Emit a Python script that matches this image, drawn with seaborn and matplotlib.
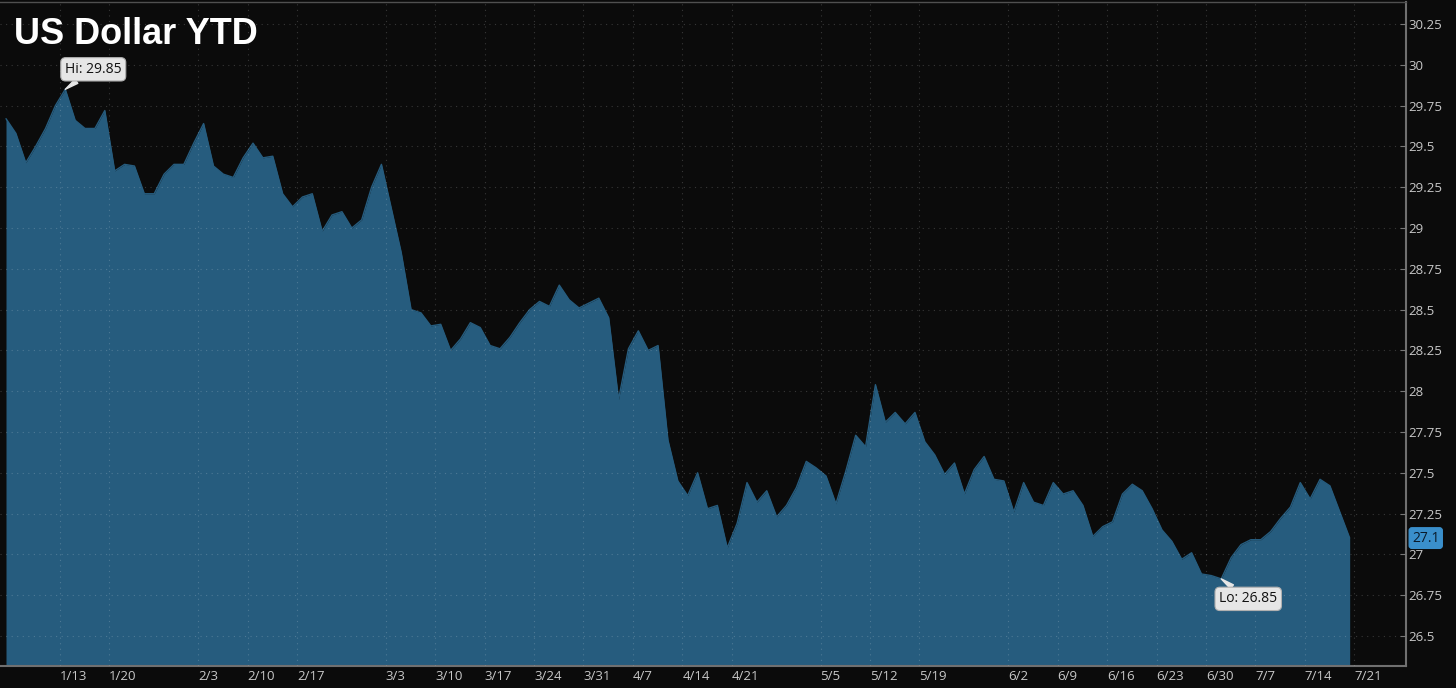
import numpy as np
import pandas as pd
import matplotlib
matplotlib.use('Agg')
import matplotlib.pyplot as plt
import seaborn as sns

# daily closes, one per bar
closes = [
    29.67, 29.58, 29.40, 29.50, 29.61, 29.75, 29.85, 29.66, 29.61, 29.61,
    29.72, 29.35, 29.39, 29.38, 29.21, 29.21, 29.33, 29.39, 29.39, 29.52,
    29.64, 29.38, 29.33, 29.31, 29.43, 29.52, 29.43, 29.44, 29.21, 29.13,
    29.19, 29.21, 28.98, 29.08, 29.10, 29.00, 29.05, 29.25, 29.39, 29.12,
    28.85, 28.50, 28.48, 28.40, 28.41, 28.25, 28.32, 28.42, 28.39, 28.28,
    28.26, 28.33, 28.42, 28.50, 28.55, 28.52, 28.65, 28.56, 28.51, 28.54,
    28.57, 28.45, 27.95, 28.26, 28.37, 28.25, 28.28, 27.70, 27.45, 27.36,
    27.50, 27.28, 27.30, 27.04, 27.19, 27.44, 27.32, 27.39, 27.23, 27.30,
    27.41, 27.57, 27.53, 27.48, 27.31, 27.51, 27.73, 27.66, 28.04, 27.81,
    27.87, 27.80, 27.87, 27.69, 27.61, 27.49, 27.56, 27.37, 27.52, 27.60,
    27.46, 27.45, 27.26, 27.44, 27.32, 27.30, 27.44, 27.37, 27.39, 27.30,
    27.11, 27.17, 27.20, 27.37, 27.43, 27.39, 27.28, 27.15, 27.08, 26.97,
    27.01, 26.88, 26.87, 26.85, 26.98, 27.06, 27.09, 27.09, 27.14, 27.22,
    27.29, 27.44, 27.34, 27.46, 27.42, 27.26, 27.10,
]

# bar index where each labelled week starts
tick_bars = [6, 11, 20, 25, 30, 39, 44, 49, 54, 59, 64, 69, 74, 83, 88, 93,
             102, 107, 112, 117, 122, 127, 132, 137]
tick_labels = ['1/13', '1/20', '2/3', '2/10', '2/17', '3/3', '3/10', '3/17',
               '3/24', '3/31', '4/7', '4/14', '4/21', '5/5', '5/12', '5/19',
               '6/2', '6/9', '6/16', '6/23', '6/30', '7/7', '7/14', '7/21']

y_ticks = [26.5, 26.75, 27, 27.25, 27.5, 27.75, 28, 28.25, 28.5, 28.75,
           29, 29.25, 29.5, 29.75, 30, 30.25]

BG = '#0b0b0b'
FILL = '#265c7e'
TXT = '#c8c8c8'

sns.set_theme(style='dark')
plt.rcParams['font.family'] = ['Open Sans', 'DejaVu Sans']

df = pd.DataFrame({'bar': np.arange(len(closes)), 'close': closes})

fig = plt.figure(figsize=(14.56, 6.88), dpi=100, facecolor=BG)
ax = fig.add_axes([0, 22 / 688, 1406 / 1456, 664 / 688])
ax.set_facecolor(BG)

ax.fill_between(df['bar'], df['close'], 26.0, color=FILL, lw=0, zorder=1)
sns.lineplot(data=df, x='bar', y='close', ax=ax, color=FILL, lw=1, zorder=2)

# 9.88 px per bar, first bar 6 px from the left edge
px_bar = 9.88
ax.set_xlim(-6 / px_bar, (1406 - 6) / px_bar)
ax.set_ylim(26.316, 30.385)

ax.yaxis.tick_right()
ax.set_yticks(y_ticks)
ax.set_yticklabels(['{:g}'.format(v) for v in y_ticks])
ax.set_xticks([b - 0.55 for b in tick_bars])
ax.set_xticklabels(tick_labels, ha='left')
ax.set_xlabel('')
ax.set_ylabel('')

ax.tick_params(axis='x', direction='in', length=4, width=0.8, color='#777777',
               labelcolor=TXT, labelsize=9.5, pad=3)
ax.tick_params(axis='y', direction='in', length=4, width=0.8, color='#777777',
               labelcolor=TXT, labelsize=9.5, pad=2)

ax.grid(True, color='white', alpha=0.18, linestyle=(0, (1, 4)), lw=0.8)
ax.set_axisbelow(False)

ax.spines['left'].set_visible(False)
for s in ['right', 'bottom']:
    ax.spines[s].set_color('#707070')
    ax.spines[s].set_linewidth(1.5)
ax.spines['top'].set_color('#505050')
ax.spines['top'].set_linewidth(1)

# hi / lo callouts
hi_i = int(np.argmax(closes))
lo_i = int(np.argmin(closes))
box = dict(boxstyle='round,pad=0.3,rounding_size=0.35', fc='#e6e6e6',
           ec='#b0b0b0', lw=0.8)
wedge = dict(arrowstyle='wedge,tail_width=0.35', fc='#e6e6e6', ec='#e6e6e6',
             shrinkA=0, shrinkB=0)
ax.annotate('Hi: {:.2f}'.format(closes[hi_i]), xy=(hi_i, closes[hi_i]),
            xytext=(28, 20), textcoords='offset pixels', ha='center',
            va='center', fontsize=10, color='#111111', bbox=box,
            arrowprops=wedge, zorder=5)
ax.annotate('Lo: {:.2f}'.format(closes[lo_i]), xy=(lo_i, closes[lo_i]),
            xytext=(27, -20), textcoords='offset pixels', ha='center',
            va='center', fontsize=10, color='#111111', bbox=box,
            arrowprops=wedge, zorder=5)

# last value tag on the price axis
ax.annotate('{:g}'.format(closes[-1]), xy=(1, closes[-1]),
            xycoords=('axes fraction', 'data'), xytext=(6, 0),
            textcoords='offset pixels', ha='left', va='center', fontsize=10,
            color='#0a1a2a',
            bbox=dict(boxstyle='round,pad=0.2', fc='#3a8fcb', ec='#3a8fcb'),
            annotation_clip=False, zorder=5)

fig.text(14 / 1456, 1 - 44 / 688, 'US Dollar YTD', fontsize=26,
         fontweight='bold', color='white', family='Liberation Sans',
         va='baseline', ha='left')

fig.savefig('out.png', dpi=100, facecolor=BG)
